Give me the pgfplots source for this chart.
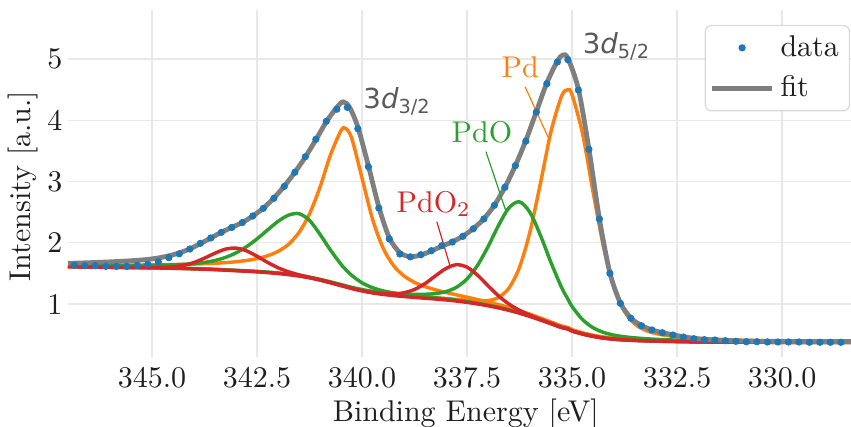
\documentclass[border=0pt]{standalone}
\usepackage{fontspec}
\usepackage{pgfplots}
\usepackage{pgfplotstable}
\pgfplotsset{compat=1.18}
\newfontfamily\djv{DejaVu Sans}
\definecolor{tabblue}{RGB}{31,119,180}
\definecolor{taborange}{RGB}{255,127,14}
\definecolor{tabgreen}{RGB}{44,160,44}
\definecolor{tabred}{RGB}{214,39,40}
\definecolor{fitgray}{RGB}{127,127,127}
\definecolor{annot}{RGB}{89,89,89}
\definecolor{gridc}{RGB}{232,232,232}

% components: background (bg) and height of each peak above it
\pgfplotstableread{
x bg a b c d e f
347.00 1.610 0.024 0.0015 0.018 0.0030 0.0012 0.0004
346.75 1.607 0.026 0.0016 0.020 0.0032 0.0013 0.0004
346.50 1.604 0.028 0.0017 0.022 0.0035 0.0015 0.0004
346.25 1.601 0.031 0.0018 0.024 0.0038 0.0017 0.0005
346.00 1.598 0.034 0.0019 0.026 0.0040 0.0020 0.0005
345.75 1.596 0.037 0.0020 0.029 0.0042 0.0025 0.0005
345.50 1.594 0.040 0.0021 0.033 0.0045 0.0030 0.0005
345.25 1.592 0.045 0.0022 0.037 0.0048 0.0035 0.0006
345.00 1.590 0.049 0.0022 0.042 0.0050 0.0060 0.0006
344.75 1.586 0.055 0.0024 0.049 0.0052 0.0120 0.0007
344.50 1.582 0.062 0.0025 0.057 0.0054 0.0250 0.0007
344.25 1.578 0.070 0.0026 0.069 0.0057 0.0530 0.0008
344.00 1.573 0.079 0.0027 0.087 0.0060 0.1050 0.0008
343.75 1.567 0.091 0.0029 0.112 0.0062 0.1820 0.0009
343.50 1.560 0.105 0.0031 0.151 0.0065 0.2700 0.0010
343.25 1.552 0.124 0.0032 0.209 0.0070 0.3440 0.0010
343.00 1.543 0.147 0.0034 0.292 0.0075 0.3700 0.0011
342.75 1.534 0.177 0.0036 0.402 0.0080 0.3340 0.0012
342.50 1.524 0.217 0.0038 0.539 0.0090 0.2560 0.0013
342.25 1.512 0.275 0.0041 0.696 0.0095 0.1680 0.0014
342.00 1.497 0.362 0.0044 0.852 0.0100 0.0950 0.0016
341.75 1.478 0.497 0.0047 0.973 0.0110 0.0480 0.0018
341.50 1.455 0.713 0.0051 1.020 0.0120 0.0220 0.0020
341.25 1.425 1.046 0.0055 0.940 0.0140 0.0100 0.0023
341.00 1.388 1.521 0.0060 0.749 0.0150 0.0056 0.0027
340.75 1.345 2.093 0.0066 0.534 0.0170 0.0035 0.0032
340.50 1.298 2.534 0.0072 0.350 0.0190 0.0030 0.0037
340.40 1.280 2.590 0.0075 0.291 0.0200 0.0030 0.0040
340.25 1.252 2.463 0.0079 0.218 0.0210 0.0028 0.0044
340.00 1.212 1.843 0.0087 0.134 0.0240 0.0025 0.0056
339.75 1.180 1.205 0.0096 0.086 0.0270 0.0023 0.0080
339.50 1.155 0.760 0.0110 0.060 0.0310 0.0020 0.0140
339.25 1.136 0.492 0.0120 0.046 0.0360 0.0019 0.0290
339.00 1.120 0.338 0.0140 0.037 0.0420 0.0018 0.0640
338.75 1.106 0.247 0.0150 0.030 0.0520 0.0017 0.1320
338.50 1.093 0.190 0.0180 0.026 0.0660 0.0016 0.2410
338.25 1.080 0.151 0.0200 0.022 0.0910 0.0015 0.3810
338.00 1.065 0.123 0.0240 0.019 0.1380 0.0015 0.5160
337.75 1.047 0.102 0.0280 0.017 0.2270 0.0014 0.5950
337.50 1.025 0.086 0.0360 0.015 0.3850 0.0014 0.5760
337.25 1.000 0.073 0.0500 0.013 0.6320 0.0013 0.4710
337.00 0.970 0.063 0.0860 0.012 0.9680 0.0013 0.3280
336.75 0.935 0.055 0.1720 0.011 1.3490 0.0012 0.1970
336.50 0.895 0.048 0.3680 0.010 1.6780 0.0012 0.1030
336.25 0.848 0.043 0.7540 0.009 1.8200 0.0012 0.0490
336.00 0.795 0.038 1.3890 0.008 1.6980 0.0011 0.0220
335.75 0.737 0.034 2.2450 0.0075 1.3790 0.0011 0.0110
335.50 0.676 0.031 3.1440 0.0070 0.9980 0.0010 0.0070
335.25 0.614 0.028 3.7800 0.0065 0.6560 0.0010 0.0050
335.10 0.591 0.027 3.9100 0.0063 0.4920 0.0010 0.0045
335.00 0.557 0.025 3.8590 0.0060 0.4010 0.0010 0.0040
334.75 0.508 0.023 3.2730 0.0055 0.2370 0.0010 0.0035
334.50 0.470 0.021 2.3590 0.0050 0.1430 0.0010 0.0030
334.25 0.442 0.020 1.4890 0.0047 0.0940 0.0010 0.0027
334.00 0.424 0.018 0.8520 0.0044 0.0670 0.0010 0.0024
333.75 0.412 0.017 0.4670 0.0040 0.0530 0.0010 0.0021
333.50 0.404 0.016 0.2670 0.0040 0.0430 0.0010 0.0019
333.25 0.398 0.015 0.1710 0.0037 0.0360 0.0010 0.0017
333.00 0.393 0.014 0.1240 0.0035 0.0310 0.0010 0.0016
332.75 0.389 0.013 0.0980 0.0033 0.0270 0.0009 0.0014
332.50 0.386 0.012 0.0800 0.0030 0.0240 0.0009 0.0013
332.25 0.383 0.011 0.0670 0.0030 0.0210 0.0009 0.0012
332.00 0.381 0.010 0.0570 0.0028 0.0190 0.0009 0.0011
331.75 0.379 0.0095 0.0490 0.0027 0.0170 0.0008 0.0010
331.50 0.378 0.0090 0.0430 0.0026 0.0150 0.0008 0.0010
331.25 0.377 0.0085 0.0380 0.0025 0.0140 0.0008 0.0010
331.00 0.376 0.0080 0.0330 0.0024 0.0120 0.0008 0.0009
330.75 0.375 0.0075 0.0300 0.0023 0.0110 0.0008 0.0009
330.50 0.375 0.0070 0.0270 0.0022 0.0100 0.0007 0.0008
330.25 0.374 0.0068 0.0240 0.0021 0.0095 0.0007 0.0008
330.00 0.374 0.0065 0.0220 0.0020 0.0090 0.0007 0.0008
329.75 0.373 0.0062 0.0200 0.0020 0.0085 0.0007 0.0007
329.50 0.373 0.0060 0.0180 0.0019 0.0080 0.0007 0.0007
329.25 0.373 0.0058 0.0170 0.0018 0.0075 0.0006 0.0007
329.00 0.372 0.0055 0.0150 0.0018 0.0070 0.0006 0.0006
328.75 0.372 0.0052 0.0140 0.0017 0.0068 0.0006 0.0006
328.50 0.372 0.0050 0.0130 0.0017 0.0065 0.0006 0.0006
328.35 0.372 0.0050 0.0120 0.0016 0.0060 0.0006 0.0006
}\comp

\pgfplotstableread{
x y
347.00 1.665
346.85 1.667
346.60 1.672
346.35 1.678
346.10 1.685
345.85 1.693
345.60 1.702
345.35 1.713
345.10 1.728
344.85 1.752
344.60 1.787
344.35 1.834
344.10 1.900
343.85 1.985
343.60 2.078
343.35 2.170
343.10 2.252
342.85 2.330
342.60 2.437
342.35 2.565
342.10 2.730
341.85 2.925
341.60 3.150
341.35 3.400
341.10 3.680
340.85 3.975
340.60 4.210
340.45 4.300
340.30 4.215
340.10 3.890
339.85 3.260
339.60 2.585
339.35 2.080
339.10 1.840
338.85 1.772
338.60 1.800
338.35 1.865
338.10 1.945
337.85 2.015
337.60 2.108
337.35 2.230
337.10 2.392
336.85 2.612
336.60 2.905
336.35 3.260
336.10 3.670
335.85 4.140
335.60 4.610
335.35 4.965
335.22 5.065
335.10 5.010
334.85 4.510
334.60 3.535
334.35 2.395
334.10 1.510
333.85 1.018
333.60 0.772
333.35 0.650
333.10 0.578
332.85 0.533
332.60 0.497
332.35 0.466
332.10 0.440
331.85 0.424
331.60 0.414
331.35 0.406
331.10 0.400
330.85 0.396
330.60 0.393
330.35 0.391
330.10 0.390
329.85 0.389
329.35 0.388
328.85 0.388
328.35 0.387
}\fittab

\pgfplotstableread{
x y
346.85 1.632
346.60 1.625
346.35 1.625
346.10 1.615
345.85 1.615
345.60 1.615
345.35 1.632
345.10 1.648
344.85 1.690
344.60 1.756
344.35 1.820
344.10 1.898
343.85 1.990
343.60 2.078
343.35 2.170
343.10 2.250
342.85 2.330
342.60 2.437
342.35 2.562
342.10 2.726
341.85 2.921
341.60 3.150
341.35 3.405
341.10 3.689
340.85 3.983
340.60 4.180
340.35 4.210
340.10 3.862
339.85 3.242
339.60 2.567
339.35 2.061
339.10 1.816
338.85 1.770
338.60 1.805
338.35 1.870
338.10 1.952
337.85 2.012
337.60 2.105
337.35 2.229
337.10 2.388
336.85 2.611
336.60 2.905
336.35 3.258
336.10 3.660
335.85 4.133
335.60 4.597
335.35 4.951
335.10 4.989
334.85 4.494
334.60 3.526
334.35 2.388
334.10 1.501
333.85 1.011
333.60 0.767
333.35 0.646
333.10 0.576
332.85 0.531
332.60 0.494
332.35 0.461
332.10 0.433
331.85 0.417
331.60 0.412
331.35 0.401
331.10 0.391
330.85 0.384
330.60 0.384
330.35 0.380
330.10 0.380
329.85 0.380
329.60 0.380
329.35 0.375
329.10 0.375
328.85 0.375
328.60 0.375
328.35 0.375
}\datatab

\begin{document}
\begin{tikzpicture}
\begin{axis}[
  scale only axis,
  width=261pt, height=115.67pt,
  x dir=reverse,
  xmin=328.36, xmax=347, ymin=0.135, ymax=5.8,
  xtick={330,332.5,335,337.5,340,342.5,345},
  xticklabels={330.0,332.5,335.0,337.5,340.0,342.5,345.0},
  ytick={1,2,3,4,5},
  yticklabels={1,2,3,4,5},
  axis line style={draw=none},
  major tick length=0pt,
  tick style={draw=none},
  grid=major,
  grid style={color=gridc, line width=0.45pt},
  tick label style={color=black!88},
  yticklabel style={inner xsep=1.7pt},
  xlabel={Binding Energy [eV]},
  ylabel={Intensity [a.u.]},
  label style={color=black!88},
  xlabel style={at={(axis description cs:0.508,-0.1873)}, anchor=base},
  ylabel style={at={(axis description cs:-0.04725,0.493)}, anchor=base},
  legend image code/.code={\draw[mark repeat=2,mark phase=2,#1] plot coordinates {(0pt,0pt) (10pt,0pt) (20pt,0pt)};},
  legend cell align=left,
  legend style={at={(axis description cs:0.9987,0.9568)}, anchor=north east,
    draw=black!15, rounded corners=2pt, fill=white, text=black!88,
    inner xsep=1.5pt, inner ysep=1.2pt, row sep=1pt,
    /tikz/every even column/.append style={column sep=3.3pt}},
]
\addlegendimage{only marks, mark=*, mark size=1pt, color=tabblue}
\addlegendentry{data}
\addlegendimage{color=fitgray, line width=1.6pt}
\addlegendentry{fit}

\addplot[forget plot, smooth, taborange, line width=1.15pt] table[x=x, y expr=\thisrow{bg}+\thisrow{a}] {\comp};
\addplot[forget plot, smooth, taborange, line width=1.15pt] table[x=x, y expr=\thisrow{bg}+\thisrow{b}] {\comp};
\addplot[forget plot, smooth, tabgreen, line width=1.15pt] table[x=x, y expr=\thisrow{bg}+\thisrow{c}] {\comp};
\addplot[forget plot, smooth, tabgreen, line width=1.15pt] table[x=x, y expr=\thisrow{bg}+\thisrow{d}] {\comp};
\addplot[forget plot, smooth, tabred, line width=1.15pt] table[x=x, y expr=\thisrow{bg}+\thisrow{e}] {\comp};
\addplot[forget plot, smooth, tabred, line width=1.15pt] table[x=x, y expr=\thisrow{bg}+\thisrow{f}] {\comp};

\addplot[forget plot, smooth, fitgray, line width=1.6pt] table[x=x, y=y] {\fittab};
\addplot[forget plot, only marks, mark=*, mark size=1pt, color=tabblue] table[x=x, y=y] {\datatab};

\draw[taborange, line width=0.4pt] (axis cs:336.12,4.548) -- (axis cs:335.54,3.678);
\draw[tabgreen, line width=0.4pt] (axis cs:337.05,3.487) -- (axis cs:336.57,2.507);
\draw[tabred, line width=0.4pt] (axis cs:338.22,2.344) -- (axis cs:337.90,1.609);

\node[anchor=base west, inner sep=0pt, text=taborange] at (axis cs:336.69,4.70) {Pd};
\node[anchor=base west, inner sep=0pt, text=tabgreen] at (axis cs:337.88,3.634) {PdO};
\node[anchor=base west, inner sep=0pt, text=tabred] at (axis cs:339.19,2.50) {PdO\textsubscript{2}};
\node[anchor=base west, inner sep=0pt, text=annot, font=\djv\fontsize{9.2}{11}\selectfont] at (axis cs:339.98,4.195) {3\textit{d}\textsubscript{3/2}};
\node[anchor=base west, inner sep=0pt, text=annot, font=\djv\fontsize{9.2}{11}\selectfont] at (axis cs:334.76,5.093) {3\textit{d}\textsubscript{5/2}};
\end{axis}
\pgfresetboundingbox
\path[use as bounding box] ([xshift=-22.67pt,yshift=-23.33pt]current axis.south west) rectangle ([yshift=3.33pt]current axis.north east);
\end{tikzpicture}
\end{document}
